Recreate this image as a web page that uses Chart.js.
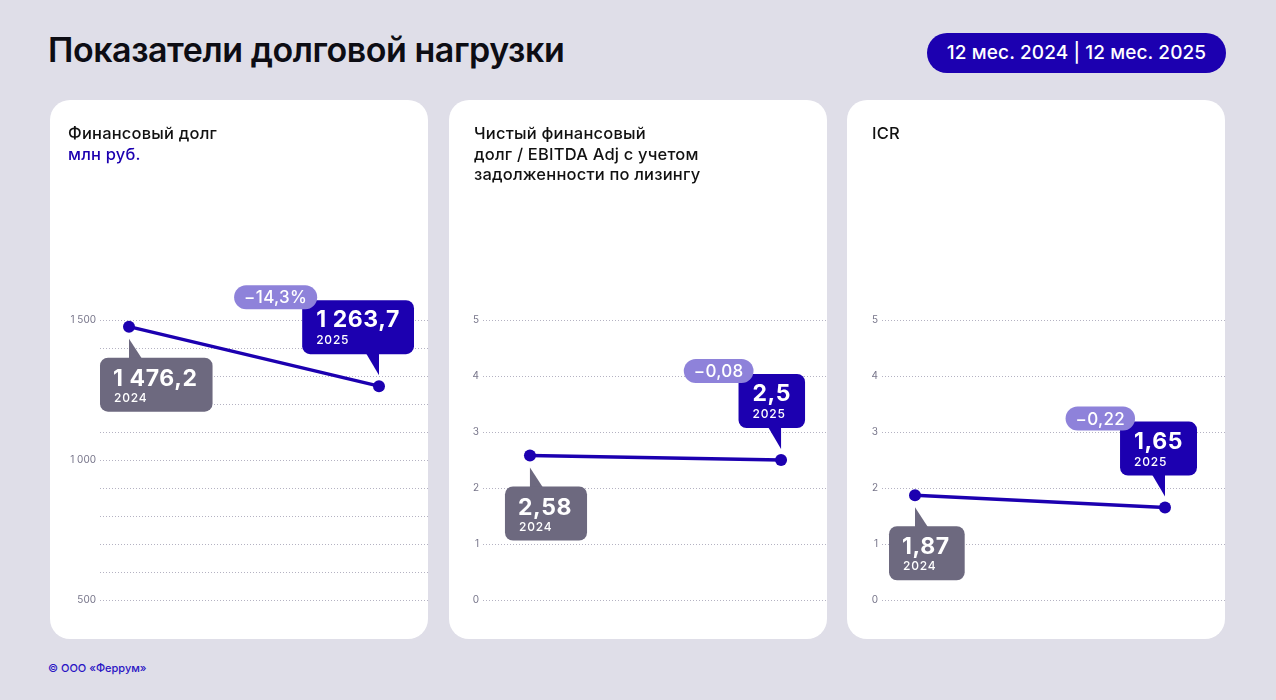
<!DOCTYPE html>
<html><head><meta charset="utf-8">
<script src="https://cdn.jsdelivr.net/npm/chart.js@4.4.1/dist/chart.umd.min.js"></script>
<style>
html,body{margin:0;padding:0}
body{width:1276px;height:700px;background:#dfdee8;position:relative;overflow:hidden;font-family:Inter,"Noto Sans",sans-serif;}
.title{position:absolute;left:48px;top:30px;font-size:34px;font-weight:600;line-height:40px;color:#0d0d14;letter-spacing:-0.45px;white-space:nowrap}
.badge{position:absolute;left:927px;top:33px;width:299px;height:40px;border-radius:20px;background:#1c00b0;color:#fff;font-size:19px;font-weight:500;line-height:40px;text-align:center;white-space:nowrap;letter-spacing:0.1px}
.panel{position:absolute;top:100px;width:378px;height:539px;background:#fff;border-radius:20px}
.panel canvas{position:absolute;left:0;top:0}
.ptitle{position:absolute;top:23px;font-size:16.5px;font-weight:500;line-height:20.5px;color:#111;letter-spacing:0.2px;white-space:nowrap}
.unit{color:#1c00b0}
.footer{position:absolute;left:48px;top:660px;font-size:11px;font-weight:500;color:#2a14c4;line-height:16px}
</style></head>
<body>
<div class="title">Показатели долговой нагрузки</div>
<div class="badge">12 мес. 2024 | 12 мес. 2025</div>

<div class="panel" style="left:50px"><canvas id="c1" width="378" height="539"></canvas>
  <div class="ptitle" style="left:18px">Финансовый долг<br><span class="unit">млн руб.</span></div></div>
<div class="panel" style="left:449px"><canvas id="c2" width="378" height="539"></canvas>
  <div class="ptitle" style="left:25px">Чистый финансовый<br>долг / EBITDA Adj с учетом<br>задолженности по лизингу</div></div>
<div class="panel" style="left:847px"><canvas id="c3" width="378" height="539"></canvas>
  <div class="ptitle" style="left:25px">ICR</div></div>

<div class="footer">© ООО «Феррум»</div>

<script>
// ---- data ----
const years = ['2024', '2025'];
const debtValues = [1476.2, 1263.7];
const leverageValues = [2.58, 2.5];
const icrValues = [1.87, 1.65];
const changeLabels = ['−14,3%', '−0,08', '−0,22'];
const debtTickLabels = [500, 1000, 1500];
const ratioTickLabels = [0, 1, 2, 3, 4, 5];

// ---- helpers ----
function fmt(v) {
  const parts = String(v).split('.');
  let int = parts[0];
  if (int.length > 3) int = int.replace(/\B(?=(\d{3})+(?!\d))/g, ' ');
  return parts.length > 1 ? int + ',' + parts[1] : int;
}
function rr(ctx, x, y, w, h, r) {
  ctx.beginPath();
  ctx.moveTo(x + r, y);
  ctx.lineTo(x + w - r, y);
  ctx.arcTo(x + w, y, x + w, y + r, r);
  ctx.lineTo(x + w, y + h - r);
  ctx.arcTo(x + w, y + h, x + w - r, y + h, r);
  ctx.lineTo(x + r, y + h);
  ctx.arcTo(x, y + h, x, y + h - r, r);
  ctx.lineTo(x, y + r);
  ctx.arcTo(x, y, x + r, y, r);
  ctx.closePath();
}

const FONT = 'Inter, "Noto Sans", sans-serif';
const BLUE = '#1c00b0';
const GRAY = '#6d697f';
const PILL = '#8e82da';

const calloutPlugin = {
  id: 'callouts',
  afterDraw(chart, args, opts) {
    const ctx = chart.ctx;
    const pts = chart.getDatasetMeta(0).data;
    const vals = chart.data.datasets[0].data.map(d => d.y);
    ctx.save();
    const h = 54;
    // ---- gray callout (first point) ----
    const p0 = pts[0];
    ctx.letterSpacing = '0.6px';
    ctx.font = 'bold 23px ' + FONT;
    const t0 = fmt(vals[0]);
    const w0 = ctx.measureText(t0).width + 28;
    const gx = p0.x + opts.grayDx, gy = p0.y + 31;
    ctx.fillStyle = GRAY;
    ctx.beginPath();
    ctx.moveTo(p0.x, p0.y + 12);
    ctx.lineTo(p0.x + 13, gy + 1);
    ctx.lineTo(p0.x, gy + 1);
    ctx.closePath();
    ctx.fill();
    rr(ctx, gx, gy, w0, h, 8); ctx.fill();
    ctx.fillStyle = '#fff';
    ctx.textAlign = 'left'; ctx.textBaseline = 'alphabetic';
    ctx.fillText(t0, gx + 13, gy + 28);
    ctx.letterSpacing = '0.8px';
    ctx.font = '500 12px ' + FONT;
    ctx.fillText(chart.data.labels[0], gx + 14, gy + 44);

    // ---- blue callout (second point) ----
    const p1 = pts[1];
    ctx.letterSpacing = '0.6px';
    ctx.font = 'bold 23px ' + FONT;
    const t1 = fmt(vals[1]);
    const w1 = ctx.measureText(t1).width + 28;
    const bRight = p1.x + opts.blueDx, bBottom = p1.y - 32;
    const bx = bRight - w1, by = bBottom - h;
    ctx.fillStyle = BLUE;
    ctx.beginPath();
    ctx.moveTo(p1.x - 13, bBottom - 1);
    ctx.lineTo(p1.x, bBottom - 1);
    ctx.lineTo(p1.x, p1.y - 11);
    ctx.closePath();
    ctx.fill();
    rr(ctx, bx, by, w1, h, 8); ctx.fill();
    ctx.fillStyle = '#fff';
    ctx.fillText(t1, bx + 14, by + 27);
    ctx.letterSpacing = '0.8px';
    ctx.font = '500 12px ' + FONT;
    ctx.fillText(chart.data.labels[1], bx + 14, by + 44);

    // ---- change pill ----
    ctx.letterSpacing = '0.3px';
    ctx.font = '500 17px ' + FONT;
    const pt = opts.change;
    const pw = ctx.measureText(pt).width + 20;
    const pRight = bx + 15, pBottom = by + 9;
    ctx.fillStyle = PILL;
    rr(ctx, pRight - pw, pBottom - 24, pw, 24, 12); ctx.fill();
    ctx.fillStyle = '#fff';
    ctx.textBaseline = 'middle';
    ctx.fillText(pt, pRight - pw + 10, pBottom - 12 + 1);
    ctx.restore();
  }
};

function makeChart(id, values, yOpts, xMin, xMax, axisW, callout) {
  return new Chart(document.getElementById(id), {
    type: 'line',
    data: {
      labels: years,
      datasets: [{
        data: values.map((v, i) => ({ x: i, y: v })),
        borderColor: BLUE,
        backgroundColor: BLUE,
        borderWidth: 3.5,
        pointRadius: 6,
        pointHoverRadius: 6,
        pointBackgroundColor: BLUE,
        pointBorderWidth: 0,
        clip: false,
        tension: 0
      }]
    },
    options: {
      responsive: false,
      animation: false,
      events: [],
      layout: { autoPadding: false, padding: { top: 220, bottom: 39, left: 0, right: 0 } },
      plugins: { legend: { display: false }, tooltip: { enabled: false }, callouts: callout },
      scales: {
        x: { type: 'linear', display: false, min: xMin, max: xMax },
        y: Object.assign({
          position: 'left',
          border: { display: false, dash: [1, 2] },
          grid: { color: '#b4b2c2', lineWidth: 1, drawTicks: false },
          afterFit: s => { s.width = axisW; }
        }, yOpts)
      }
    },
    plugins: [calloutPlugin]
  });
}

const tickFont = { family: FONT, size: 10 };
Chart.defaults.font.family = FONT;

makeChart('c1', debtValues, {
  min: 500, max: 1500,
  ticks: {
    stepSize: 100, padding: 4, color: '#77758a', font: tickFont,
    callback: v => debtTickLabels.includes(v) ? fmt(v) : ''
  }
}, -0.116, 1.196, 50, { grayDx: -29, blueDx: 35, change: changeLabels[0] });

makeChart('c2', leverageValues, {
  min: 0, max: 5,
  ticks: {
    stepSize: 1, padding: 4, color: '#77758a', font: tickFont,
    callback: v => ratioTickLabels.includes(v) ? String(v) : ''
  }
}, -0.187, 1.183, 34, { grayDx: -25, blueDx: 24, change: changeLabels[1] });

makeChart('c3', icrValues, {
  min: 0, max: 5,
  ticks: {
    stepSize: 1, padding: 4, color: '#77758a', font: tickFont,
    callback: v => ratioTickLabels.includes(v) ? String(v) : ''
  }
}, -0.132, 1.24, 35, { grayDx: -26, blueDx: 32, change: changeLabels[2] });
</script>
</body></html>
